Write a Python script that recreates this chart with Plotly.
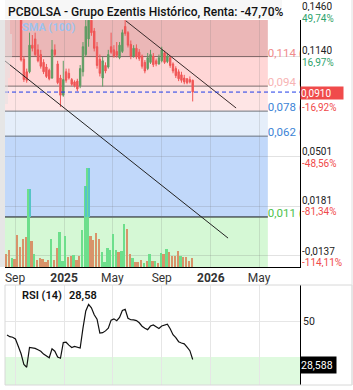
import plotly.graph_objects as go
import pandas as pd
import numpy as np

# ---------------- data ----------------
week_start = "2024-08-12"
n_weeks = 67
dates = pd.date_range(week_start, periods=n_weeks, freq="7D")

opens = [0.1760, 0.1720, 0.1680, 0.1630, 0.1650, 0.1500, 0.1120, 0.1040, 0.1040, 0.1210,
         0.1250, 0.1180, 0.1150, 0.1100, 0.1070, 0.1050, 0.1000, 0.1180, 0.1090, 0.1000,
         0.0890, 0.1040, 0.1030, 0.0990, 0.0975, 0.0980, 0.0950, 0.1040, 0.1150, 0.1250,
         0.1370, 0.1300, 0.1200, 0.1120, 0.1000, 0.1080, 0.1070, 0.1200, 0.1180, 0.1170,
         0.1130, 0.1170, 0.1330, 0.1290, 0.1215, 0.1140, 0.1190, 0.1165, 0.1140, 0.1100,
         0.1060, 0.1100, 0.1140, 0.1110, 0.1090, 0.1110, 0.1160, 0.1105, 0.1130, 0.1090,
         0.1060, 0.1040, 0.1020, 0.1000, 0.0995, 0.0990, 0.0985]
highs = [0.1800, 0.1760, 0.1720, 0.1700, 0.1680, 0.1520, 0.1140, 0.1060, 0.1290, 0.1275,
         0.1290, 0.1215, 0.1180, 0.1120, 0.1090, 0.1060, 0.1243, 0.1215, 0.1110, 0.1020,
         0.1110, 0.1060, 0.1060, 0.1000, 0.0985, 0.0995, 0.1083, 0.1230, 0.1400, 0.1400,
         0.1400, 0.1320, 0.1230, 0.1150, 0.1135, 0.1100, 0.1180, 0.1290, 0.1210, 0.1230,
         0.1230, 0.1310, 0.1380, 0.1300, 0.1240, 0.1210, 0.1215, 0.1185, 0.1150, 0.1115,
         0.1160, 0.1180, 0.1160, 0.1125, 0.1150, 0.1200, 0.1175, 0.1160, 0.1140, 0.1100,
         0.1075, 0.1055, 0.1040, 0.1020, 0.1000, 0.1010, 0.0990]
lows = [0.1700, 0.1650, 0.1600, 0.1580, 0.1480, 0.1105, 0.0975, 0.0970, 0.1030, 0.1170,
        0.1140, 0.1100, 0.1060, 0.1025, 0.1000, 0.0985, 0.0995, 0.1135, 0.0960, 0.0815,
        0.0880, 0.0970, 0.0990, 0.0950, 0.0940, 0.0915, 0.0935, 0.1010, 0.1135, 0.1200,
        0.1270, 0.1170, 0.1060, 0.1010, 0.0945, 0.1030, 0.1060, 0.1155, 0.1130, 0.1130,
        0.1120, 0.1160, 0.1270, 0.1195, 0.1120, 0.1130, 0.1120, 0.1110, 0.1060, 0.1030,
        0.1050, 0.1090, 0.1070, 0.1075, 0.1085, 0.1100, 0.1090, 0.1095, 0.1065, 0.1030,
        0.1000, 0.0980, 0.0970, 0.0960, 0.0960, 0.0965, 0.0850]
closes = [0.1720, 0.1680, 0.1630, 0.1650, 0.1500, 0.1115, 0.0990, 0.0985, 0.1210, 0.1190,
          0.1150, 0.1110, 0.1075, 0.1040, 0.1010, 0.0995, 0.1180, 0.1150, 0.0970, 0.0890,
          0.0990, 0.0985, 0.1000, 0.0960, 0.0950, 0.0930, 0.1060, 0.1200, 0.1330, 0.1370,
          0.1290, 0.1190, 0.1080, 0.1030, 0.1110, 0.1045, 0.1150, 0.1165, 0.1140, 0.1145,
          0.1210, 0.1290, 0.1285, 0.1210, 0.1140, 0.1190, 0.1135, 0.1125, 0.1075, 0.1045,
          0.1130, 0.1150, 0.1085, 0.1090, 0.1130, 0.1180, 0.1100, 0.1140, 0.1080, 0.1045,
          0.1015, 0.0995, 0.0985, 0.0975, 0.0970, 0.0975, 0.0910]

volumes = [13, 17, 9, 8, 32, 20, 28, 30, 78, 26, 13, 7, 9, 8, 5, 7, 28, 7, 19, 35,
           6, 31, 10, 11, 12, 7, 11, 37, 81, 99, 31, 27, 34, 28, 15, 5, 19, 17, 33, 17,
           15, 16, 43, 38, 13, 9, 5, 5, 7, 4, 6, 13, 6, 6, 4, 14, 13, 18, 15, 11,
           11, 16, 11, 10, 10, 6, 9]
vol_up = [0, 0, 1, 0, 0, 0, 0, 0, 1, 0, 1, 0, 0, 0, 0, 0, 1, 0, 0, 1,
          1, 1, 0, 0, 1, 0, 0, 1, 1, 1, 0, 0, 0, 0, 1, 1, 1, 1, 1, 1,
          0, 1, 1, 0, 0, 1, 0, 0, 0, 1, 0, 1, 0, 1, 0, 1, 0, 1, 0, 0,
          0, 0, 1, 0, 0, 0, 0]

rsi = [42.2, 41.3, 41.0, 40.0, 36.0, 31.8, 25.8, 24.3, 35.3, 35.1,
       34.8, 34.0, 33.2, 31.6, 30.7, 29.6, 34.5, 33.2, 30.0, 29.3,
       38.0, 38.2, 36.6, 35.3, 35.9, 35.3, 35.0, 46.0, 55.6, 59.2,
       57.3, 53.5, 51.0, 43.3, 43.5, 44.5, 46.0, 50.5, 51.2, 50.2,
       52.0, 55.8, 56.5, 51.5, 50.7, 50.6, 50.2, 49.0, 47.1, 46.0,
       45.2, 47.2, 47.8, 46.8, 45.8, 47.2, 47.7, 48.2, 45.7, 42.4,
       40.8, 38.5, 37.8, 37.3, 35.5, 33.5, 28.58]

levels = [0.1137, 0.0948, 0.0788, 0.0628, 0.0111]
level_labels = ["0,114 (11,4%)", "0,094 (9,4%)", "0,078 (7,8%)", "0,062 (6,2%)", "0,011 (1,1%)"]
last_price = 0.0910

trend_upper_x = ["2025-06-04", "2026-03-05"]
trend_upper_y = [0.1365, 0.0808]
trend_lower_x = ["2024-08-07", "2026-02-13"]
trend_lower_y = [0.1109, -0.0024]

tick_dates = ["2024-09-01", "2025-01-01", "2025-05-01", "2025-09-01", "2026-01-01", "2026-05-01"]
tick_text = ["Sep", "<b>2025</b>", "May", "Sep", "<b>2026</b>", "May"]

axis_labels = [("0,1460", "49,74%"), ("0,1140", "16,97%"), ("0,0501", "-48,56%"),
               ("0,0181", "-81,34%"), ("-0,0137", "-114,11%")]
grid_vals = [0.1140, 0.0501, 0.0181, -0.0137]

# ---------------- layout constants ----------------
W, H = 353, 390
ML, MR = 5, 53
x_range = ["2024-08-07", "2026-08-11"]
band_end = "2026-05-23"
y_range = [-0.0209, 0.1371]
vol_max = 247
rsi_range = [14.44, 70]
FONT = "Roboto"


def ax(px):
    return (px - ML) / (W - ML - MR)


def ay(py):
    return 1 - py / H


units_per_px = (y_range[1] - y_range[0]) / 247

fig = go.Figure()

# volume bars
vol_arr = np.array(volumes, dtype=float)
up_arr = np.array(vol_up) == 1
thr = (levels[4] - y_range[0]) / (y_range[1] - y_range[0]) * vol_max
bar_w = 4.6 * 86400000
fig.add_trace(go.Bar(x=dates, y=vol_arr, yaxis="y3", xaxis="x",
                     marker=dict(color=np.where(up_arr, "#6ddf8c", "#d8936a"), line=dict(width=0)),
                     width=bar_w, hoverinfo="skip", showlegend=False))
over = np.where(up_arr, np.maximum(vol_arr - thr, 0), 0)
fig.add_trace(go.Bar(x=dates, y=over, base=thr, yaxis="y3", xaxis="x",
                     marker=dict(color="#56c4c6", line=dict(width=0)),
                     width=bar_w, hoverinfo="skip", showlegend=False))

# candles
fig.add_trace(go.Candlestick(x=dates, open=opens, high=highs, low=lows, close=closes,
                             xaxis="x", yaxis="y",
                             increasing=dict(line=dict(color="#5e9c62", width=1), fillcolor="#5e9c62"),
                             decreasing=dict(line=dict(color="#f05656", width=1), fillcolor="#f05656"),
                             whiskerwidth=0, showlegend=False, hoverinfo="skip"))

# trend lines
fig.add_trace(go.Scatter(x=trend_upper_x, y=trend_upper_y, mode="lines", xaxis="x", yaxis="y",
                         line=dict(color="#3a2a2a", width=1), showlegend=False, hoverinfo="skip"))
fig.add_trace(go.Scatter(x=trend_lower_x, y=trend_lower_y, mode="lines", xaxis="x", yaxis="y",
                         line=dict(color="#222222", width=1), showlegend=False, hoverinfo="skip"))

# level labels (clipped at the axis)
level_colors = ["#f08c8c", "#f7b4b4", "#3d84d6", "#3d84d6", "#4cc24c"]
fig.add_trace(go.Scatter(x=[band_end] * len(levels), y=[lv - 3 * units_per_px for lv in levels],
                         mode="text", text=level_labels,
                         textposition="top right", xaxis="x", yaxis="y", cliponaxis=True,
                         textfont=dict(family=FONT, size=11.5, color=level_colors),
                         showlegend=False, hoverinfo="skip"))

# RSI
fig.add_trace(go.Scatter(x=dates, y=rsi, mode="lines", xaxis="x2", yaxis="y2",
                         line=dict(color="#111111", width=1.2), showlegend=False, hoverinfo="skip"))

shapes = []
# price zones
band_edges = [y_range[1]] + levels + [y_range[0]]
band_colors = ["#ebb7b7", "#ffd6d6", "#fee5e5", "#e5eefa", "#c1d8fa", "#d5f8d5"]
for i, c in enumerate(band_colors):
    shapes.append(dict(type="rect", xref="x", yref="y", x0=x_range[0], x1=band_end,
                       y0=band_edges[i + 1], y1=band_edges[i], fillcolor=c,
                       line=dict(width=0), layer="below"))
level_line_colors = ["#806262", "#7d6c6c", "#6e747c", "#66707e", "#111111"]
for lv, lc in zip(levels, level_line_colors):
    shapes.append(dict(type="line", xref="x", yref="y", x0=x_range[0], x1=band_end,
                       y0=lv, y1=lv, line=dict(color=lc, width=1), layer="below"))
# last price dashed line
shapes.append(dict(type="line", xref="x", yref="y", x0=x_range[0], x1=x_range[1],
                   y0=last_price, y1=last_price, line=dict(color="#1f3ce8", width=1, dash="4px,3px")))
# left strip and volume profile
shapes.append(dict(type="rect", xref="paper", yref="paper", x0=ax(0), x1=ax(5),
                   y0=ay(267), y1=ay(20), fillcolor="#e6e6e6", line=dict(width=0)))
for (w, t, b) in [(5, 20, 34), (7, 34, 58), (5, 58, 78), (3, 78, 104)]:
    shapes.append(dict(type="rect", xref="paper", yref="paper", x0=ax(5), x1=ax(5 + w),
                       y0=ay(b), y1=ay(t), fillcolor="rgba(225,225,225,0.55)", line=dict(width=0)))
# title background
shapes.append(dict(type="rect", xref="paper", yref="paper", x0=ax(5), x1=ax(282),
                   y0=ay(19), y1=ay(0), fillcolor="#f7f7f7", line=dict(width=0)))
# RSI oversold zone
shapes.append(dict(type="rect", xref="x2", yref="y2", x0=x_range[0], x1=x_range[1],
                   y0=rsi_range[0], y1=30, fillcolor="#dffadf", line=dict(width=0), layer="below"))
# frames
shapes.append(dict(type="rect", xref="paper", yref="paper", x0=ax(5), x1=ax(352),
                   y0=ay(385), y1=ay(285), line=dict(color="#d8d8d8", width=1)))
shapes.append(dict(type="line", xref="paper", yref="paper", x0=ax(352), x1=ax(352),
                   y0=ay(385), y1=ay(0), line=dict(color="#e0e0e0", width=1)))

ann = []
ann.append(dict(text="PCBOLSA - Grupo Ezentis Histórico, Renta: -47,70%", xref="paper", yref="paper",
                x=ax(6), y=ay(12), xanchor="left", yanchor="middle", showarrow=False,
                font=dict(family=FONT, size=12, color="#111111", weight=500)))
ann.append(dict(text="SMA (100)", xref="paper", yref="paper", x=ax(20), y=ay(28),
                xanchor="left", yanchor="middle", showarrow=False,
                font=dict(family=FONT, size=11, color="#9ec2ee", weight=700)))
label_rows = [(6, 18), (50.5, 61.5), (151.5, 162.5), (200.5, 211.5), (250.5, 261.5)]
for (val, pct), (yv, yp) in zip(axis_labels, label_rows):
    pc = "#2ea36c" if not pct.startswith("-") else "#f04a4a"
    ann.append(dict(text=val, xref="paper", yref="paper", x=ax(301), y=ay(yv), xanchor="left",
                    yanchor="middle", showarrow=False, borderpad=0, height=10, valign="middle",
                    font=dict(family=FONT, size=10, color="#222222")))
    ann.append(dict(text=pct, xref="paper", yref="paper", x=ax(301), y=ay(yp), xanchor="left",
                    yanchor="middle", showarrow=False, borderpad=0, height=10, valign="middle",
                    font=dict(family=FONT, size=10, color=pc)))
ann.append(dict(text="0,0910", xref="paper", yref="paper", x=ax(300), y=ay(92.5), xanchor="left",
                yanchor="middle", showarrow=False, bgcolor="#f04b4b", width=42, height=12, align="left",
                borderpad=0, font=dict(family=FONT, size=10, color="#ffffff")))
ann.append(dict(text="-16,92%", xref="paper", yref="paper", x=ax(301), y=ay(107), xanchor="left",
                yanchor="middle", showarrow=False, borderpad=0, height=10, valign="middle",
                font=dict(family=FONT, size=10, color="#f04a4a")))
ann.append(dict(text="RSI (14)", xref="paper", yref="paper", x=ax(20), y=ay(295), xanchor="left",
                yanchor="middle", showarrow=False, font=dict(family=FONT, size=11, color="#111111", weight=600)))
ann.append(dict(text="28,58", xref="paper", yref="paper", x=ax(67), y=ay(295), xanchor="left",
                yanchor="middle", showarrow=False, font=dict(family=FONT, size=11, color="#111111", weight=600)))
ann.append(dict(text="50", xref="paper", yref="paper", x=ax(301), y=ay(321), xanchor="left",
                yanchor="middle", showarrow=False, font=dict(family=FONT, size=10.5, color="#222222")))
ann.append(dict(text="28,588", xref="paper", yref="paper", x=ax(300), y=ay(365), xanchor="left",
                yanchor="middle", showarrow=False, bgcolor="#000000", width=35, height=16, align="left",
                borderpad=0, font=dict(family=FONT, size=10.5, color="#ffffff")))

fig.update_layout(
    width=W, height=H, margin=dict(l=ML, r=MR, t=0, b=0),
    paper_bgcolor="white", plot_bgcolor="white", showlegend=False,
    font=dict(family=FONT, size=12, color="#333333"),
    shapes=shapes, annotations=ann, bargap=0,
    xaxis=dict(domain=[0, 1], range=x_range, type="date", anchor="y",
               tickvals=tick_dates, ticktext=tick_text, tickfont=dict(size=12, color="#333333"),
               showgrid=True, gridcolor="rgba(110,110,110,0.18)", gridwidth=1,
               showline=True, linecolor="#000000", linewidth=1, ticks="",
               rangeslider=dict(visible=False), zeroline=False, fixedrange=True),
    yaxis=dict(domain=[ay(267), ay(20)], range=y_range, side="right", anchor="x",
               tickvals=grid_vals, showticklabels=False, showgrid=True,
               gridcolor="rgba(110,110,110,0.2)", showline=True, linecolor="#000000",
               linewidth=1, zeroline=False, ticks="", fixedrange=True),
    yaxis3=dict(overlaying="y", range=[0, vol_max], visible=False, fixedrange=True),
    xaxis2=dict(domain=[0, 1], range=x_range, type="date", anchor="y2",
                tickvals=tick_dates, showticklabels=False, showgrid=True, gridcolor="#e6e6e6",
                showline=False, zeroline=False, ticks="", fixedrange=True),
    yaxis2=dict(domain=[ay(385), ay(285)], range=rsi_range, side="right", anchor="x2",
                tickvals=[50], showticklabels=False, showgrid=True, gridcolor="#e6e6e6",
                showline=True, linecolor="#000000", linewidth=1, zeroline=False, ticks="",
                fixedrange=True),
)

fig.write_html("out.html")
